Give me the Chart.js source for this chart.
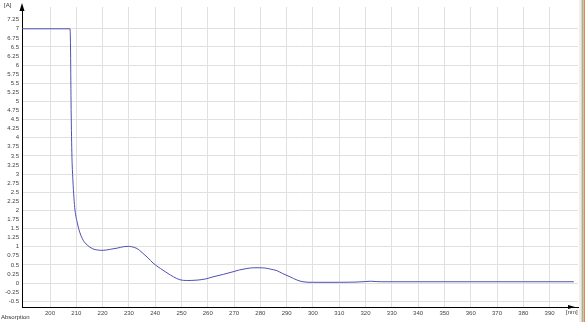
<!DOCTYPE html>
<html>
<head>
<meta charset="utf-8">
<script src="https://cdn.jsdelivr.net/npm/chart.js@4.4.1/dist/chart.umd.min.js"></script>
<style>
  body { margin: 0; background: #fff; font-family: "Liberation Sans", Arial, sans-serif; }
  #wrap { position: relative; width: 585px; height: 322px; overflow: hidden; }
  #c { position: absolute; left: 0; top: 0; }
  .lbl { position: absolute; font-size: 6px; color: #333; white-space: nowrap; }
  #stripes { position: absolute; left: 579px; top: 0; width: 6px; height: 322px;
    background: linear-gradient(to right, #fff 0, #f4d6d6 1px, #fff 2px, #8fbf8a 3px, #8fbf8a 4px, #fff 4px, #d86a5a 5px, #e8a060 6px); }
</style>
</head>
<body>
<div id="wrap">
  <canvas id="c" width="585" height="322"></canvas>
  <div class="lbl" style="left:4px;top:2px;">[A]</div>
  <div class="lbl" style="left:1px;top:314px;">Absorption</div>
  <div class="lbl" style="left:566px;top:309px;">[nm]</div>
  <div id="stripes"></div>
</div>
<script>
// wavelength (nm) and absorbance (A)
const wavelengths = [189.4, 207.6, 207.8, 208.0, 208.3, 208.7, 209.1, 209.5, 210.4, 211.4, 212.6, 214.1,
  216.3, 218, 220.2, 223, 225.5, 228, 229.7, 231, 233.1, 235, 237.3, 239.2, 242, 244.5, 247, 249.4,
  252, 255.9, 259, 262, 266, 269.6, 272, 274.9, 277.5, 279.8, 282, 284, 286.3, 288.5, 291.3, 294,
  296.2, 300, 310, 316, 320, 322, 324, 326, 340, 360, 380, 399.2];
const absorbance = [7, 7, 6.5, 5, 3.6, 2.84, 2.35, 2.01, 1.65, 1.38, 1.18, 1.05,
  0.94, 0.91, 0.9, 0.93, 0.96, 1.0, 1.01, 1.0, 0.95, 0.84, 0.69, 0.55, 0.4, 0.28, 0.17, 0.09,
  0.07, 0.08, 0.11, 0.17, 0.24, 0.31, 0.36, 0.4, 0.42, 0.42, 0.41, 0.38, 0.34, 0.26, 0.17, 0.08,
  0.035, 0.02, 0.02, 0.025, 0.04, 0.05, 0.04, 0.035, 0.035, 0.035, 0.035, 0.035];

const xTicks = [200, 210, 220, 230, 240, 250, 260, 270, 280, 290, 300, 310, 320, 330, 340, 350, 360, 370, 380, 390];
const yTicks = [-0.5, -0.25, 0, 0.25, 0.5, 0.75, 1, 1.25, 1.5, 1.75, 2, 2.25, 2.5, 2.75, 3, 3.25, 3.5, 3.75,
  4, 4.25, 4.5, 4.75, 5, 5.25, 5.5, 5.75, 6, 6.25, 6.5, 6.75, 7, 7.25];

const points = wavelengths.map((w, i) => ({ x: w, y: absorbance[i] }));

// arrows at the ends of the axes
const arrows = {
  id: 'arrows',
  afterDraw(chart) {
    const ctx = chart.ctx;
    const a = chart.chartArea;
    ctx.save();
    ctx.fillStyle = '#000';
    ctx.beginPath();
    ctx.moveTo(a.left, a.top - 4);
    ctx.lineTo(a.left - 2.5, a.top + 4);
    ctx.lineTo(a.left + 2.5, a.top + 4);
    ctx.fill();
    ctx.beginPath();
    ctx.moveTo(a.right - 3, a.bottom);
    ctx.lineTo(a.right - 10, a.bottom - 2);
    ctx.lineTo(a.right - 10, a.bottom + 2);
    ctx.fill();
    ctx.restore();
  }
};

new Chart(document.getElementById('c'), {
  type: 'line',
  data: {
    datasets: [{
      data: points,
      borderColor: '#5050b0',
      borderWidth: 1,
      pointRadius: 0,
      fill: false,
      cubicInterpolationMode: 'monotone',
    }],
  },
  options: {
    responsive: false,
    animation: false,
    layout: { padding: { top: 7, right: 7, left: 0, bottom: 0 } },
    plugins: { legend: { display: false }, tooltip: { enabled: false } },
    scales: {
      x: {
        type: 'linear',
        min: 189.35,
        max: 400.8,
        afterBuildTicks: scale => { scale.ticks = xTicks.map(v => ({ value: v })); },
        afterFit: scale => { scale.height = 15; },
        grid: { color: '#e0e0e0', lineWidth: 1, drawTicks: false },
        border: { color: '#000', width: 1 },
        ticks: { font: { size: 6, family: 'Liberation Sans' }, color: '#444', padding: 3, maxRotation: 0, autoSkip: false },
      },
      y: {
        min: -0.66,
        max: 7.6,
        afterBuildTicks: scale => { scale.ticks = yTicks.map(v => ({ value: v })); },
        afterFit: scale => { scale.width = 22; },
        grid: {
          color: c => (Math.abs(c.tick.value * 2 - Math.round(c.tick.value * 2)) < 1e-6 ? '#e0e0e0' : 'rgba(0,0,0,0)'),
          lineWidth: 1,
          drawTicks: false,
        },
        border: { color: '#000', width: 1 },
        ticks: {
          font: { size: 6, family: 'Liberation Sans' },
          color: '#444',
          padding: 3,
          autoSkip: false,
          callback: v => String(+v.toFixed(2)),
        },
      },
    },
  },
  plugins: [arrows],
});
</script>
</body>
</html>
